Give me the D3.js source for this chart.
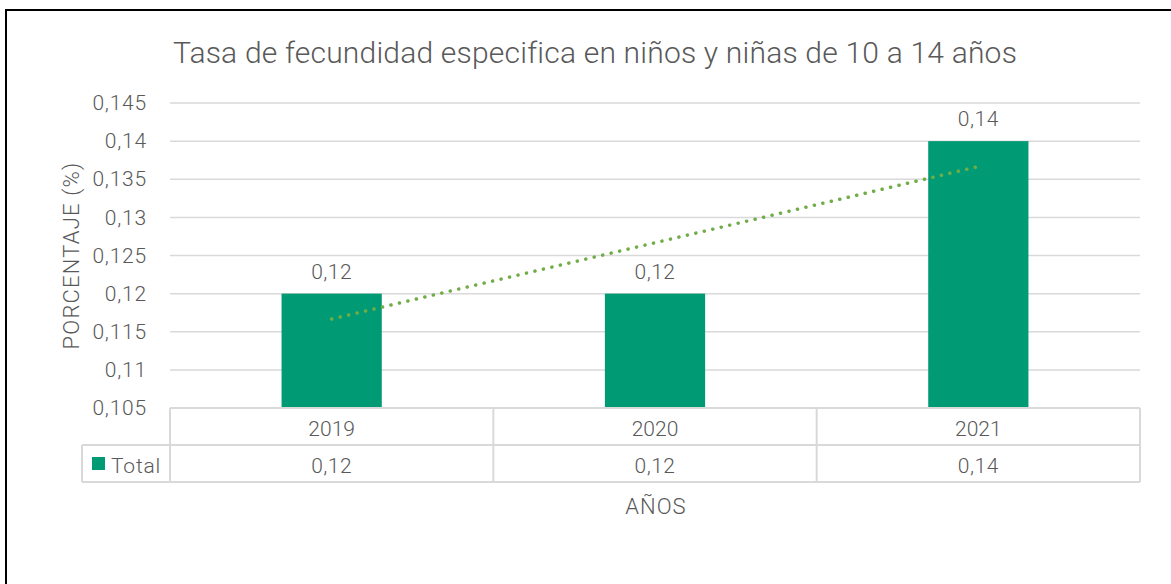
<!DOCTYPE html>
<html>
<head>
<meta charset="utf-8">
<script src="https://cdn.jsdelivr.net/npm/d3@7"></script>
<style>
  body { margin: 0; background: #fff; }
  text { font-family: Roboto, "Noto Sans", sans-serif; font-weight: 300; fill: #595959; }
</style>
</head>
<body>
<svg id="chart"></svg>
<script>
"use strict";

// data
const years = ["2019", "2020", "2021"];
const totals = [0.12, 0.12, 0.14];
const yTicks = [0.105, 0.11, 0.115, 0.12, 0.125, 0.13, 0.135, 0.14, 0.145];
const seriesName = "Total";

const width = 1171, height = 584;
const margin = {top: 103, right: 31, bottom: 176, left: 170};
const green = "#009a75";
const grid = "#d9d9d9";

const svg = d3.select("#chart")
    .attr("width", width)
    .attr("height", height);

// outer frame (top and left only)
svg.append("path")
    .attr("d", `M6,${height} L6,10 L${width},10`)
    .attr("fill", "none")
    .attr("stroke", "#000")
    .attr("stroke-width", 2);

const fmt = v => String(v).replace(".", ",");

const x = d3.scaleBand()
    .domain(years)
    .range([margin.left, width - margin.right])
    .paddingInner(0)
    .paddingOuter(0);

const y = d3.scaleLinear()
    .domain([0.105, 0.145])
    .range([height - margin.bottom, margin.top]);

// gridlines
svg.append("g")
    .selectAll("line").data(yTicks.slice(1))
    .enter().append("line")
    .attr("x1", margin.left).attr("x2", width - margin.right)
    .attr("y1", d => y(d)).attr("y2", d => y(d))
    .attr("stroke", grid).attr("stroke-width", 1.5);

// y axis labels
const yAxis = svg.append("g")
    .attr("transform", `translate(${margin.left},0)`)
    .call(d3.axisLeft(y).tickValues(yTicks).tickFormat(fmt).tickSize(0).tickPadding(23));
yAxis.select(".domain").remove();
yAxis.selectAll("text")
    .style("font-size", "21px")
    .style("letter-spacing", "0.8px")
    .attr("fill", "#595959");

// y axis title
svg.append("text")
    .attr("transform", `translate(79,${y(0.125)}) rotate(-90)`)
    .attr("text-anchor", "middle")
    .style("font-size", "22px")
    .style("letter-spacing", "1.2px")
    .text("PORCENTAJE (%)");

// bars
const barW = x.bandwidth() * 0.31;
svg.append("g")
    .selectAll("rect").data(totals)
    .enter().append("rect")
    .attr("x", (d, i) => x(years[i]) + (x.bandwidth() - barW) / 2)
    .attr("y", d => y(d))
    .attr("width", barW)
    .attr("height", d => y(0.105) - y(d))
    .attr("fill", green);

// data labels
svg.append("g")
    .selectAll("text").data(totals)
    .enter().append("text")
    .attr("x", (d, i) => x(years[i]) + x.bandwidth() / 2)
    .attr("y", d => y(d) - 15)
    .attr("text-anchor", "middle")
    .style("font-size", "21px")
    .style("letter-spacing", "0.5px")
    .text(fmt);

// linear trendline (least squares over category index)
const xs = totals.map((d, i) => i + 1);
const mx = d3.mean(xs), my = d3.mean(totals);
const slope = d3.sum(xs, (v, i) => (v - mx) * (totals[i] - my)) / d3.sum(xs, v => (v - mx) ** 2);
const icpt = my - slope * mx;
const trend = xs.map((v, i) => [x(years[i]) + x.bandwidth() / 2, y(icpt + slope * v)]);
svg.append("path")
    .attr("d", d3.line()(trend))
    .attr("fill", "none")
    .attr("stroke", "#70ad47")
    .attr("stroke-width", 3.5)
    .attr("stroke-linecap", "round")
    .attr("stroke-dasharray", "0.1 8.6");

// data table under the axis
const t0 = y(0.105), rowH = 37;
const legLeft = 82;
const table = svg.append("g").attr("stroke", grid).attr("stroke-width", 2);
table.append("line").attr("x1", margin.left).attr("x2", width - margin.right).attr("y1", t0).attr("y2", t0);
table.append("line").attr("x1", legLeft).attr("x2", width - margin.right).attr("y1", t0 + rowH).attr("y2", t0 + rowH);
table.append("line").attr("x1", legLeft).attr("x2", width - margin.right).attr("y1", t0 + 2 * rowH).attr("y2", t0 + 2 * rowH);
table.append("line").attr("x1", legLeft).attr("x2", legLeft).attr("y1", t0 + rowH).attr("y2", t0 + 2 * rowH);
const colEdges = years.map(d => x(d)).concat([x(years[years.length - 1]) + x.bandwidth()]);
table.selectAll(".col").data(colEdges)
    .enter().append("line")
    .attr("x1", d => d).attr("x2", d => d)
    .attr("y1", t0).attr("y2", t0 + 2 * rowH);

svg.append("g")
    .selectAll("text").data(years)
    .enter().append("text")
    .attr("x", d => x(d) + x.bandwidth() / 2)
    .attr("y", t0 + rowH / 2 + 9)
    .attr("text-anchor", "middle")
    .style("font-size", "21px")
    .text(d => d);

svg.append("g")
    .selectAll("text").data(totals)
    .enter().append("text")
    .attr("x", (d, i) => x(years[i]) + x.bandwidth() / 2)
    .attr("y", t0 + rowH * 1.5 + 9)
    .attr("text-anchor", "middle")
    .style("font-size", "21px")
    .style("letter-spacing", "0.5px")
    .text(fmt);

// legend key inside the table
svg.append("rect")
    .attr("x", 92).attr("y", t0 + rowH + 12)
    .attr("width", 13).attr("height", 13)
    .attr("fill", green);
svg.append("text")
    .attr("x", 111).attr("y", t0 + rowH * 1.5 + 9)
    .style("font-size", "21px")
    .style("letter-spacing", "0.8px")
    .text(seriesName);

// x axis title
svg.append("text")
    .attr("x", 656).attr("y", 514)
    .attr("text-anchor", "middle")
    .style("font-size", "22px")
    .style("letter-spacing", "1px")
    .text("AÑOS");

// chart title
svg.append("text")
    .attr("x", 595).attr("y", 63)
    .attr("text-anchor", "middle")
    .style("font-size", "30px")
    .style("letter-spacing", "0.2px")
    .text("Tasa de fecundidad especifica en niños y niñas de 10 a 14 años");
</script>
</body>
</html>
